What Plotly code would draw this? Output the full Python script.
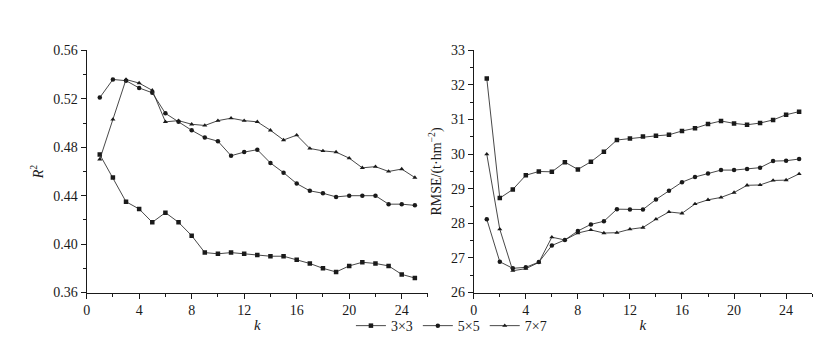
import plotly.graph_objects as go

k = list(range(1, 26))

r2_3x3 = [0.474, 0.455, 0.435, 0.429, 0.418, 0.426, 0.418, 0.407, 0.393, 0.392,
          0.393, 0.392, 0.391, 0.390, 0.390, 0.387, 0.384, 0.380, 0.377, 0.382,
          0.385, 0.384, 0.382, 0.375, 0.372]
r2_5x5 = [0.521, 0.536, 0.535, 0.529, 0.525, 0.508, 0.501, 0.494, 0.488, 0.485,
          0.473, 0.476, 0.478, 0.467, 0.459, 0.450, 0.444, 0.442, 0.439, 0.440,
          0.440, 0.440, 0.433, 0.433, 0.432]
r2_7x7 = [0.470, 0.503, 0.536, 0.533, 0.527, 0.501, 0.502, 0.499, 0.498, 0.502,
          0.504, 0.502, 0.501, 0.494, 0.486, 0.490, 0.479, 0.477, 0.476, 0.471,
          0.463, 0.464, 0.460, 0.462, 0.455]

rmse_3x3 = [32.19, 28.73, 28.98, 29.39, 29.50, 29.49, 29.77, 29.56, 29.78, 30.07,
            30.41, 30.45, 30.51, 30.53, 30.56, 30.67, 30.75, 30.87, 30.96, 30.89,
            30.85, 30.90, 30.99, 31.14, 31.23]
rmse_5x5 = [28.12, 26.89, 26.70, 26.73, 26.88, 27.36, 27.52, 27.78, 27.97, 28.06,
            28.41, 28.40, 28.40, 28.69, 28.94, 29.19, 29.34, 29.44, 29.54, 29.54,
            29.57, 29.61, 29.80, 29.81, 29.86]
rmse_7x7 = [30.00, 27.83, 26.63, 26.69, 26.87, 27.60, 27.52, 27.72, 27.81, 27.72,
            27.73, 27.83, 27.88, 28.12, 28.33, 28.29, 28.56, 28.68, 28.75, 28.89,
            29.10, 29.11, 29.24, 29.25, 29.43]

names = ["3×3", "5×5", "7×7"]
symbols = ["square", "circle", "triangle-up"]
left_series = [r2_3x3, r2_5x5, r2_7x7]
right_series = [rmse_3x3, rmse_5x5, rmse_7x7]

W, H = 830, 349
FONT = "Liberation Serif, Times New Roman, serif"
INK = "#1a1a1a"
LINE = "#333333"

fig = go.Figure()
for name, sym, ys in zip(names, symbols, left_series):
    fig.add_trace(go.Scatter(
        x=k, y=ys, name=name, mode="lines+markers", xaxis="x", yaxis="y",
        line=dict(color=LINE, width=0.9),
        marker=dict(symbol=sym, size=4.5, color=INK),
        showlegend=True))
for name, sym, ys in zip(names, symbols, right_series):
    fig.add_trace(go.Scatter(
        x=k, y=ys, name=name, mode="lines+markers", xaxis="x2", yaxis="y2",
        line=dict(color=LINE, width=0.9),
        marker=dict(symbol=sym, size=4.5, color=INK),
        showlegend=False))

def xax(domain, anchor):
    return dict(domain=domain, anchor=anchor, range=[0, 26], tickmode="linear",
                tick0=0, dtick=4, ticks="outside", ticklen=5, tickwidth=1,
                tickcolor=INK, showline=True, linecolor=INK, linewidth=1,
                showgrid=False, zeroline=False,
                minor=dict(ticks="outside", ticklen=3, dtick=2, tick0=0, tickcolor=INK),
                tickfont=dict(family=FONT, size=14, color=INK),
                title=dict(text="<i>k</i>", font=dict(family=FONT, size=15, color=INK),
                           standoff=2))

def yax(domain, anchor, rng, dtick, minor, title, fmt):
    return dict(domain=domain, anchor=anchor, range=rng, tickmode="linear",
                tick0=rng[0], dtick=dtick, ticks="outside", ticklen=5, tickwidth=1,
                tickcolor=INK, showline=True, linecolor=INK, linewidth=1,
                showgrid=False, zeroline=False, tickformat=fmt,
                minor=dict(ticks="outside", ticklen=3, dtick=minor, tick0=rng[0], tickcolor=INK),
                tickfont=dict(family=FONT, size=14, color=INK),
                title=dict(text=title, font=dict(family=FONT, size=14, color=INK),
                           standoff=6))

ydom = [(H - 290) / H, (H - 37) / H]
fig.update_layout(
    width=W, height=H,
    margin=dict(l=0, r=0, t=0, b=0),
    paper_bgcolor="white", plot_bgcolor="white",
    xaxis=xax([75 / W, 418 / W], "y"),
    yaxis=yax(ydom, "x", [0.36, 0.56], 0.04, 0.02, "<i>R</i><sup>2</sup>", ".2f"),
    xaxis2=xax([464 / W, 804 / W], "y2"),
    yaxis2=yax(ydom, "x2", [26, 33], 1, 0.5, "RMSE/(t·hm<sup>−2</sup>)", "d"),
    legend=dict(orientation="h", x=0.532, xanchor="center", y=(H - 325) / H,
                yanchor="middle", font=dict(family=FONT, size=14, color=INK),
                itemwidth=30, tracegroupgap=0, bgcolor="rgba(0,0,0,0)"),
    font=dict(family=FONT, color=INK),
)

fig.write_html("out.html")
